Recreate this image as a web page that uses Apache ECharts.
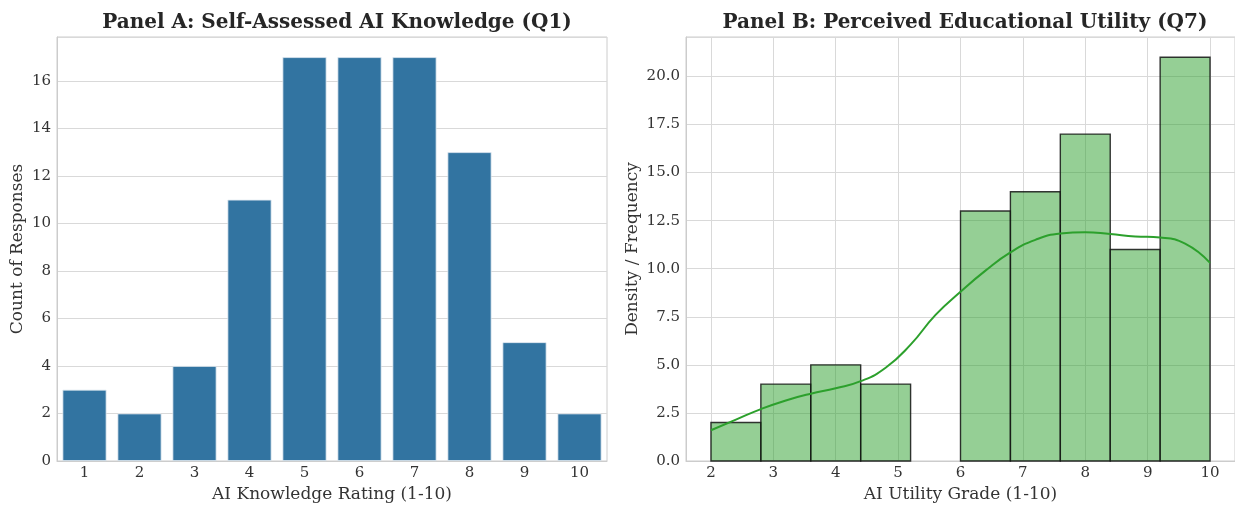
<!DOCTYPE html>
<html>
<head>
<meta charset="utf-8">
<script src="https://cdn.jsdelivr.net/npm/echarts@6/dist/echarts.min.js"></script>
<style>
html,body{margin:0;padding:0;background:#fff;}
#chart{width:1235px;height:508px;}
</style>
</head>
<body>
<div id="chart"></div>
<script>
// Panel A data
const knowledgeCategories = ['1','2','3','4','5','6','7','8','9','10'];
const knowledgeCounts = [3, 2, 4, 11, 17, 17, 17, 13, 5, 2];
const panelAYTicks = [0, 2, 4, 6, 8, 10, 12, 14, 16];

// Panel B data
const utilityBinEdges = [2.0, 2.8, 3.6, 4.4, 5.2, 6.0, 6.8, 7.6, 8.4, 9.2, 10.0];
const utilityCounts = [2, 4, 5, 4, 0, 13, 14, 17, 11, 21];
const kdeX = [2.0, 2.4, 2.8, 3.2, 3.6, 4.0, 4.4, 4.8, 5.2, 5.6, 6.0, 6.4, 6.8, 7.2, 7.6, 8.0, 8.4, 8.8, 9.2, 9.6, 10.0];
const kdeY = [1.6, 2.15, 2.7, 3.15, 3.5, 3.78, 4.15, 4.85, 6.05, 7.6, 8.8, 9.9, 10.85, 11.5, 11.83, 11.9, 11.8, 11.68, 11.62, 11.3, 10.3];
const panelBXTicks = [2, 3, 4, 5, 6, 7, 8, 9, 10];

const FONT = "'DejaVu Serif', serif";
const TXT = '#333333';
const GRID = '#d9d9d9';
const SPINE = '#cccccc';

const histData = utilityCounts.map((c, i) => [utilityBinEdges[i], utilityBinEdges[i + 1], c]).filter(d => d[2] > 0);
const kdeData = kdeX.map((x, i) => [x, kdeY[i]]);

const chart = echarts.init(document.getElementById('chart'), null, {renderer: 'canvas'});
chart.setOption({
  animation: false,
  backgroundColor: '#ffffff',
  title: [
    {text: 'Panel A: Self-Assessed AI Knowledge (Q1)', left: 332, top: 8, textAlign: 'center',
     textStyle: {fontFamily: FONT, fontSize: 20, fontWeight: 'bold', color: '#262626'}},
    {text: 'Panel B: Perceived Educational Utility (Q7)', left: 960, top: 8, textAlign: 'center',
     textStyle: {fontFamily: FONT, fontSize: 20, fontWeight: 'bold', color: '#262626'}}
  ],
  grid: [
    {left: 57, right: 628, top: 37, bottom: 46, show: true, borderColor: SPINE, borderWidth: 1, backgroundColor: 'transparent'},
    {left: 686, right: -2, top: 37, bottom: 46, show: true, borderColor: SPINE, borderWidth: 1, backgroundColor: 'transparent'}
  ],
  xAxis: [
    {type: 'category', gridIndex: 0, data: knowledgeCategories,
     name: 'AI Knowledge Rating (1-10)', nameLocation: 'middle', nameGap: 25,
     nameTextStyle: {fontFamily: FONT, fontSize: 17, color: TXT},
     axisLine: {show: true, lineStyle: {color: SPINE}}, axisTick: {show: false},
     axisLabel: {fontFamily: FONT, fontSize: 15, color: TXT, margin: 5},
     splitLine: {show: false}},
    {type: 'value', gridIndex: 1, min: 1.6, max: 10.4,
     name: 'AI Utility Grade (1-10)', nameLocation: 'middle', nameGap: 25,
     nameTextStyle: {fontFamily: FONT, fontSize: 17, color: TXT},
     axisLine: {show: true, onZero: false, lineStyle: {color: SPINE}},
     axisTick: {show: false, customValues: panelBXTicks},
     axisLabel: {fontFamily: FONT, fontSize: 15, color: TXT, margin: 5, customValues: panelBXTicks,
       showMinLabel: true, showMaxLabel: true},
     splitLine: {show: true, lineStyle: {color: GRID, width: 1}}}
  ],
  yAxis: [
    {type: 'value', gridIndex: 0, min: 0, max: 17.85, interval: 2,
     name: 'Count of Responses', nameLocation: 'middle', nameGap: 31,
     nameTextStyle: {fontFamily: FONT, fontSize: 17, color: TXT},
     axisLine: {show: true, lineStyle: {color: SPINE}}, axisTick: {show: false},
     axisLabel: {fontFamily: FONT, fontSize: 15, color: TXT, margin: 6, showMaxLabel: false,
       formatter: v => (panelAYTicks.indexOf(v) >= 0 ? String(v) : '')},
     splitLine: {show: true, lineStyle: {color: GRID, width: 1}}},
    {type: 'value', gridIndex: 1, min: 0, max: 22.05, interval: 2.5,
     name: 'Density / Frequency', nameLocation: 'middle', nameGap: 45,
     nameTextStyle: {fontFamily: FONT, fontSize: 17, color: TXT},
     axisLine: {show: true, lineStyle: {color: SPINE}}, axisTick: {show: false},
     axisLabel: {fontFamily: FONT, fontSize: 15, color: TXT, margin: 6, showMaxLabel: false,
       formatter: v => v.toFixed(1)},
     splitLine: {show: true, lineStyle: {color: GRID, width: 1}}}
  ],
  series: [
    {type: 'bar', xAxisIndex: 0, yAxisIndex: 0, data: knowledgeCounts, barWidth: '80%',
     itemStyle: {color: '#3274a1', borderColor: '#dfe8f0', borderWidth: 0.8}},
    {type: 'custom', xAxisIndex: 1, yAxisIndex: 1, data: histData, z: 2,
     encode: {x: [0, 1], y: 2},
     renderItem: function (params, api) {
       const p0 = api.coord([api.value(0), api.value(2)]);
       const p1 = api.coord([api.value(1), 0]);
       return {type: 'rect',
         shape: {x: p0[0], y: p0[1], width: p1[0] - p0[0], height: p1[1] - p0[1]},
         style: {fill: 'rgba(44,160,44,0.5)', stroke: 'rgba(20,20,20,0.85)', lineWidth: 1.4}};
     }},
    {type: 'line', xAxisIndex: 1, yAxisIndex: 1, data: kdeData, smooth: true, showSymbol: false, z: 3,
     lineStyle: {color: '#2ca02c', width: 2}}
  ]
});
</script>
</body>
</html>
